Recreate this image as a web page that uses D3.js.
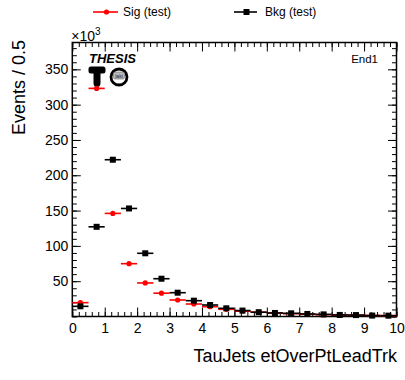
<!DOCTYPE html>
<html>
<head>
<meta charset="utf-8">
<script src="https://cdn.jsdelivr.net/npm/d3@7/dist/d3.min.js"></script>
<style>
  html, body { margin: 0; padding: 0; background: #fff; }
  svg { display: block; font-family: "Liberation Sans", Arial, Helvetica, sans-serif; }
</style>
</head>
<body>
<svg id="chart" width="405" height="380"></svg>
<script>
// Bin centres of the etOverPtLeadTrk histogram (bin width 0.5)
const binCenters = [0.25, 0.75, 1.25, 1.75, 2.25, 2.75, 3.25, 3.75, 4.25, 4.75,
                    5.25, 5.75, 6.25, 6.75, 7.25, 7.75, 8.25, 8.75, 9.25, 9.75];
const binWidth = 0.5;
// Events per bin, in thousands
const sigValues = [19.6, 323, 146, 74.8, 47.5, 33, 23.4, 17.7, 13.9, 10.2,
                   7.5, 6.0, 4.8, 4.0, 3.2, 2.6, 2.1, 1.8, 1.5, 1.2];
const bkgValues = [14.4, 127, 222, 153, 89.5, 53.5, 33.7, 22.4, 16.3, 11.6,
                   8.4, 6.1, 5.0, 4.5, 3.6, 3.0, 2.2, 2.0, 1.3, 1.2];
const xTicks = [0, 1, 2, 3, 4, 5, 6, 7, 8, 9, 10];
const yTicks = [50, 100, 150, 200, 250, 300, 350];
const series = [
  { name: "Sig (test)", values: sigValues, color: "#ff0000", marker: "circle" },
  { name: "Bkg (test)", values: bkgValues, color: "#000000", marker: "square" }
];

const svg = d3.select("#chart");
const plotL = 72.3, plotR = 396.5, plotT = 42.5, plotB = 316.5;

const x = d3.scaleLinear().domain([0, 10]).range([plotL, plotR]);
const y = d3.scaleLinear().domain([0, 388]).range([plotB, plotT]);

// --- axes (ticks drawn inward, mirrored on top and right) ---
const gAxes = svg.append("g");
const minorX = d3.range(0, 10.001, 0.2);
const minorY = d3.range(0, 388, 10);

function styleAxis(g) {
  g.select(".domain").remove();
  g.selectAll("line").attr("stroke", "#000").attr("stroke-width", 1);
  g.selectAll("text").attr("fill", "#000").style("font-size", "14px");
}

gAxes.append("g").attr("transform", `translate(0,${plotB})`)
  .call(d3.axisBottom(x).tickValues(minorX).tickSize(-4.5).tickFormat(""))
  .call(styleAxis);
gAxes.append("g").attr("transform", `translate(0,${plotB})`)
  .call(d3.axisBottom(x).tickValues(xTicks).tickSize(-9).tickPadding(6.5).tickFormat(d3.format("d")))
  .call(styleAxis);
gAxes.append("g").attr("transform", `translate(0,${plotT})`)
  .call(d3.axisTop(x).tickValues(minorX).tickSize(-4.5).tickFormat(""))
  .call(styleAxis);
gAxes.append("g").attr("transform", `translate(0,${plotT})`)
  .call(d3.axisTop(x).tickValues(xTicks).tickSize(-9).tickFormat(""))
  .call(styleAxis);

gAxes.append("g").attr("transform", `translate(${plotL},0)`)
  .call(d3.axisLeft(y).tickValues(minorY).tickSize(-4.5).tickFormat(""))
  .call(styleAxis);
gAxes.append("g").attr("transform", `translate(${plotL},0)`)
  .call(d3.axisLeft(y).tickValues(yTicks).tickSize(-8.5).tickPadding(4).tickFormat(d3.format("d")))
  .call(styleAxis);
gAxes.append("g").attr("transform", `translate(${plotR},0)`)
  .call(d3.axisRight(y).tickValues(minorY).tickSize(-4.5).tickFormat(""))
  .call(styleAxis);
gAxes.append("g").attr("transform", `translate(${plotR},0)`)
  .call(d3.axisRight(y).tickValues([0].concat(yTicks)).tickSize(-8.5).tickFormat(""))
  .call(styleAxis);

// frame
svg.append("rect")
  .attr("x", plotL).attr("y", plotT)
  .attr("width", plotR - plotL).attr("height", plotB - plotT)
  .attr("fill", "none").attr("stroke", "#000").attr("stroke-width", 1.5);

// exponent label
const expo = svg.append("text").attr("x", plotL - 1).attr("y", 41)
  .style("font-size", "14px").attr("fill", "#000");
expo.append("tspan").text("\u00d710");
expo.append("tspan").attr("dy", -6).style("font-size", "10px").text("3");

// axis titles
svg.append("text")
  .attr("transform", `translate(25,40) rotate(-90)`)
  .attr("text-anchor", "end")
  .style("font-size", "18px").attr("fill", "#000")
  .text("Events / 0.5");
svg.append("text")
  .attr("x", plotR + 0.5).attr("y", 362)
  .attr("text-anchor", "end")
  .style("font-size", "18px").attr("fill", "#000")
  .text("TauJets etOverPtLeadTrk");

// category label
svg.append("text")
  .attr("x", 378).attr("y", 63)
  .attr("text-anchor", "end")
  .style("font-size", "11.5px").attr("fill", "#000")
  .text("End1");

// logo block: caption, a T-shaped emblem and a ringed badge
const logo = svg.append("g");
logo.append("text")
  .attr("x", 89).attr("y", 63)
  .style("font-size", "13px").style("font-weight", "bold").style("font-style", "italic")
  .attr("fill", "#000")
  .text("THESIS");
logo.append("path")
  .attr("d", "M88.5,69 Q88.5,66.5 91,66.5 L103,66.5 Q105.5,66.5 105.5,69 L105.5,71 Q105.5,73.5 103,73.5 " +
             "L100.5,73.5 L100.5,83 Q100.5,87 97,87 Q93.5,87 93.5,83 L93.5,73.5 L91,73.5 Q88.5,73.5 88.5,71 Z")
  .attr("fill", "#000");
logo.append("circle")
  .attr("cx", 119).attr("cy", 77).attr("r", 8)
  .attr("fill", "#fff").attr("stroke", "#000").attr("stroke-width", 2.8);
logo.append("rect")
  .attr("x", 113.5).attr("y", 72).attr("width", 11).attr("height", 7).attr("rx", 1.5)
  .attr("fill", "#bbb").attr("stroke", "#666").attr("stroke-width", 0.6);
logo.append("text")
  .attr("x", 119).attr("y", 77.6)
  .attr("text-anchor", "middle")
  .style("font-size", "5px").attr("fill", "#222")
  .text("laki");

// --- data points with horizontal bin-width bars ---
series.forEach(s => {
  const g = svg.append("g");
  const pts = binCenters.map((c, i) => ({ c, v: s.values[i] }));
  g.selectAll("line.err").data(pts).join("line")
    .attr("x1", d => x(d.c - binWidth / 2))
    .attr("x2", d => x(d.c + binWidth / 2))
    .attr("y1", d => y(d.v)).attr("y2", d => y(d.v))
    .attr("stroke", s.color).attr("stroke-width", 1.6);
  if (s.marker === "circle") {
    g.selectAll("circle").data(pts).join("circle")
      .attr("cx", d => x(d.c)).attr("cy", d => y(d.v)).attr("r", 2.6)
      .attr("fill", s.color);
  } else {
    g.selectAll("rect").data(pts).join("rect")
      .attr("x", d => x(d.c) - 3).attr("y", d => y(d.v) - 3)
      .attr("width", 6).attr("height", 6)
      .attr("fill", s.color);
  }
});

// --- legend ---
const legendItems = [
  { s: series[0], x1: 93, x2: 118, tx: 123 },
  { s: series[1], x1: 234, x2: 257, tx: 265 }
];
legendItems.forEach(li => {
  const g = svg.append("g");
  const ly = 12;
  const cx = (li.x1 + li.x2) / 2 + 1;
  g.append("line").attr("x1", li.x1).attr("x2", li.x2).attr("y1", ly).attr("y2", ly)
    .attr("stroke", li.s.color).attr("stroke-width", 1.6);
  if (li.s.marker === "circle") {
    g.append("circle").attr("cx", cx).attr("cy", ly).attr("r", 2.6).attr("fill", li.s.color);
  } else {
    g.append("rect").attr("x", cx - 3).attr("y", ly - 3).attr("width", 6).attr("height", 6)
      .attr("fill", li.s.color);
  }
  g.append("text").attr("x", li.tx).attr("y", ly + 4.3)
    .style("font-size", "12px").attr("fill", "#000")
    .text(li.s.name);
});
</script>
</body>
</html>
